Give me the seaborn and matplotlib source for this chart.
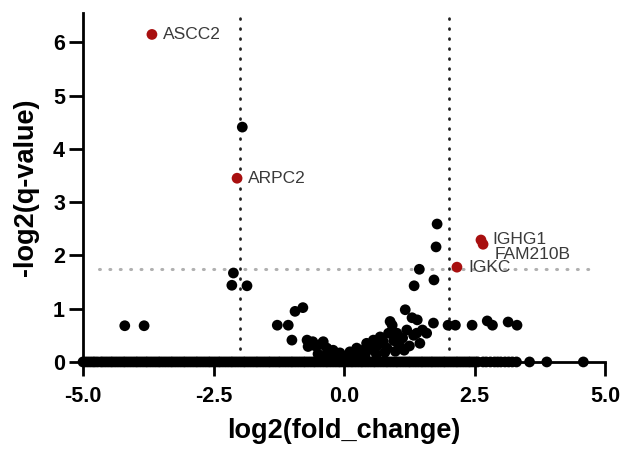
import numpy as np
import pandas as pd
import seaborn as sns
import matplotlib.pyplot as plt

# genes with q-value = 1 (sit on the x axis)
zero_fc = [-5.0, -4.96, -4.91, -4.86, -4.81, -4.77, -4.72, -4.66, -4.62, -4.57,
           -4.52, -4.47, -4.43, -4.38, -4.33, -4.28, -4.23, -4.19, -4.14, -4.09,
           -4.04, -3.99, -3.95, -3.9, -3.85, -3.8, -3.76, -3.71, -3.66, -3.61,
           -3.56, -3.52, -3.47, -3.42, -3.37, -3.32, -3.28, -3.23, -3.18, -3.13,
           -3.08, -3.04, -2.99, -2.94, -2.89, -2.84, -2.8, -2.75, -2.7, -2.65,
           -2.6, -2.56, -2.51, -2.46, -2.41, -2.37, -2.32, -2.27, -2.22, -2.17,
           -2.13, -2.08, -2.03, -1.98, -1.93, -1.89, -1.84, -1.79, -1.74, -1.69,
           -1.65, -1.6, -1.55, -1.5, -1.45, -1.41, -1.36, -1.31, -1.26, -1.22,
           -1.17, -1.12, -1.07, -1.02, -0.98, -0.93, -0.88, -0.83, -0.78, -0.74,
           -0.69, -0.64, -0.59, -0.55, -0.5, -0.45, -0.4, -0.35, -0.31, -0.26,
           -0.21, -0.16, -0.11, -0.07, -0.02, 0.03, 0.08, 0.13, 0.17, 0.22,
           0.27, 0.32, 0.36, 0.41, 0.46, 0.51, 0.56, 0.6, 0.65, 0.7,
           0.75, 0.8, 0.84, 0.89, 0.94, 0.99, 1.03, 1.08, 1.13, 1.18,
           1.23, 1.27, 1.32, 1.37, 1.42, 1.47, 1.51, 1.56, 1.61, 1.66,
           1.7, 1.75, 1.8, 1.85, 1.9, 1.94, 1.99, 2.04, 2.09, 2.14,
           2.18, 2.23, 2.28, 2.33, 2.38, 2.42, 2.47, 2.52, 2.56,
           2.66, 2.72, 2.8, 2.88, 2.94, 3.0, 3.08, 3.15, 3.22, 3.3, 3.55, 3.88, 4.58]

# other non-significant genes
ns_fc = [-4.2, -3.83, -2.12, -2.15, -1.86, -1.95,
         -1.28, -1.07, -0.94, -0.79, -1.0,
         -0.71, -0.6, -0.69, -0.55, -0.45, -0.4, -0.33, -0.28, -0.21, -0.15, -0.08, -0.03,
         -0.5, -0.36, -0.24, -0.12,
         0.05, 0.11, 0.18, 0.24, 0.3, 0.36, 0.43, 0.5, 0.56, 0.56, 0.63, 0.69, 0.75,
         0.82, 0.85, 0.88, 0.92, 0.95, 1.01, 1.07, 1.12, 1.17, 1.2, 1.3, 1.33, 1.39,
         1.4, 1.45, 1.5, 1.58,
         0.15, 0.28, 0.4, 0.62, 0.78, 0.98, 1.15, 1.25, 1.05,
         1.34, 1.44, 1.72, 1.76, 1.78,
         1.71, 1.99, 2.13, 2.45, 2.74, 2.84, 3.14, 3.31]
ns_q = [0.68, 0.68, 1.67, 1.44, 1.43, 4.41,
        0.69, 0.69, 0.95, 1.02, 0.41,
        0.41, 0.38, 0.29, 0.3, 0.33, 0.38, 0.26, 0.18, 0.22, 0.12, 0.17, 0.08,
        0.15, 0.12, 0.08, 0.05,
        0.1, 0.19, 0.12, 0.26, 0.15, 0.22, 0.35, 0.25, 0.41, 0.22, 0.3, 0.47, 0.38,
        0.26, 0.54, 0.76, 0.69, 0.4, 0.54, 0.29, 0.45, 0.98, 0.6, 0.83, 0.5, 0.54,
        0.79, 0.35, 0.6, 0.54,
        0.05, 0.08, 0.12, 0.14, 0.18, 0.2, 0.22, 0.3, 0.35,
        1.43, 1.74, 1.54, 2.16, 2.59,
        0.73, 0.69, 0.69, 0.69, 0.77, 0.69, 0.75, 0.69]

# significant genes
sig_genes = ['ASCC2', 'ARPC2', 'IGHG1', 'FAM210B', 'IGKC']
sig_fc = [-3.68, -2.05, 2.62, 2.66, 2.16]
sig_q = [6.15, 3.45, 2.29, 2.21, 1.78]

fc_cut = 2.0
q_cut = 0.3

df = pd.concat([
    pd.DataFrame({'fc': zero_fc, 'q': 0.0, 'grp': 'ns'}),
    pd.DataFrame({'fc': ns_fc, 'q': ns_q, 'grp': 'ns'}),
    pd.DataFrame({'fc': sig_fc, 'q': sig_q, 'grp': 'sig'}),
], ignore_index=True)

sns.set_style('ticks')
plt.rcParams['font.family'] = ['Liberation Sans', 'DejaVu Sans']
plt.rcParams['text.color'] = 'black'
plt.rcParams['axes.labelcolor'] = 'black'
plt.rcParams['xtick.color'] = 'black'
plt.rcParams['ytick.color'] = 'black'

fig = plt.figure(figsize=(6.24, 4.53), dpi=100)
ax = fig.add_axes([0.133, 0.201, 0.837, 0.770])

# threshold lines
ax.axhline(-np.log2(q_cut), xmin=0.03, xmax=0.985, color='#b0b0b0', lw=2.2,
           linestyle=(0, (0.3, 3.1)), dash_capstyle='round', zorder=1)
for c in [-fc_cut, fc_cut]:
    ax.vlines(c, 0.25, 6.55, color='#202020', lw=2.0,
              linestyle=(0, (0.3, 3.3)), capstyle='round', zorder=1)

sns.scatterplot(data=df, x='fc', y='q', hue='grp',
                palette={'ns': 'black', 'sig': '#a80f0f'},
                s=60, edgecolor='none', legend=False, ax=ax, clip_on=False, zorder=3)

offsets = {'FAM210B': (12, -10)}
for g, x, y in zip(sig_genes, sig_fc, sig_q):
    ax.annotate(g, (x, y), xytext=offsets.get(g, (11, 0)), textcoords='offset pixels',
                ha='left', va='center', fontsize=12.5, color='#3a3a3a')

ax.set_xlim(-5, 5)
ax.set_ylim(0, 6.55)
ax.set_xticks([-5.0, -2.5, 0.0, 2.5, 5.0])
ax.set_xticklabels(['-5.0', '-2.5', '0.0', '2.5', '5.0'])
ax.set_yticks(range(0, 7))

for s in ['top', 'right']:
    ax.spines[s].set_visible(False)
for s in ['left', 'bottom']:
    ax.spines[s].set_linewidth(2.0)
    ax.spines[s].set_color('black')
ax.tick_params(width=2.0, length=10, labelsize=15.5)
ax.tick_params(axis='x', pad=7)
ax.tick_params(axis='y', pad=3)
for lab in ax.get_xticklabels() + ax.get_yticklabels():
    lab.set_fontweight('bold')

ax.set_xlabel('log2(fold_change)', fontsize=19.5, fontweight='bold', labelpad=8)
ax.set_ylabel('-log2(q-value)', fontsize=19.5, fontweight='bold', labelpad=10)

fig.savefig('out.png', dpi=100)
